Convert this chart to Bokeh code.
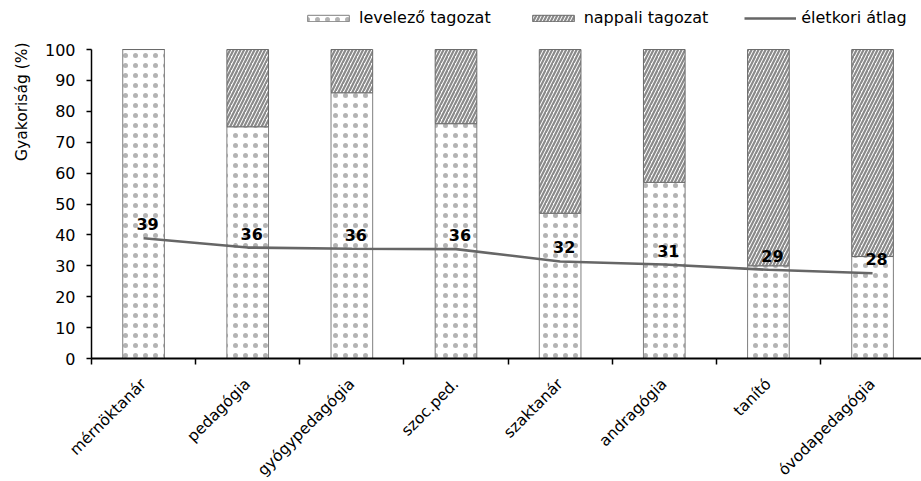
from math import pi
from bokeh.plotting import figure
from bokeh.models import (ColumnDataSource, Range1d, FixedTicker, Legend, LegendItem, Title)
from bokeh.core.properties import value
from bokeh.embed import file_html
from bokeh.resources import INLINE

categories = ["mérnöktanár", "pedagógia", "gyógypedagógia", "szoc.ped.",
              "szaktanár", "andragógia", "tanító", "óvodapedagógia"]
levelezo = [100, 75, 86, 76, 47, 57, 30, 33]
nappali = [0, 25, 14, 24, 53, 43, 70, 67]
atlag = [38.9, 35.9, 35.5, 35.4, 31.4, 30.4, 28.7, 27.6]
atlag_labels = ["39", "36", "36", "36", "32", "31", "29", "28"]
y_ticks = [0, 10, 20, 30, 40, 50, 60, 70, 80, 90, 100]
y_label = "Gyakoriság (%)"
legend_names = ["levelező tagozat", "nappali tagozat", "életkori átlag"]

FONT = "DejaVu Sans"
n = len(categories)
xs = [i + 0.5 for i in range(n)]
bounds = list(range(n + 1))
tops = [a + b for a, b in zip(levelezo, nappali)]

src = ColumnDataSource(dict(x=xs, lev=levelezo, tot=tops, avg=atlag, lab=atlag_labels))

FH = 351  # frame includes room above 100 for the legend
p = figure(frame_width=830, frame_height=FH, output_backend="svg", toolbar_location=None,
           x_range=Range1d(0, 7.97), y_range=Range1d(0, 113.6),
           min_border_left=90, min_border_right=0, min_border_top=7, min_border_bottom=10)
p.outline_line_color = None
p.xgrid.visible = False
p.ygrid.visible = False
p.background_fill_color = "white"
p.border_fill_color = "white"

r_lev = p.vbar(x="x", bottom=0, top="lev", width=0.4, source=src,
               fill_color="white", line_color="#7f7f7f", line_width=1,
               hatch_pattern="dot", hatch_color="#b3b3b3", hatch_scale=10, hatch_weight=1.0)
r_nap = p.vbar(x="x", bottom="lev", top="tot", width=0.4, source=src,
               fill_color="white", line_color="#6a6a6a", line_width=1,
               hatch_pattern="right_diagonal_line", hatch_color="#8a8a8a",
               hatch_scale=7, hatch_weight=2.2)
r_line = p.line(x="x", y="avg", source=src, line_color="#666666", line_width=2.6)
p.text(x="x", y="avg", text="lab", source=src, x_offset=4, y_offset=-14,
       text_align="center", text_baseline="middle",
       text_font=value(FONT), text_font_style="bold", text_font_size="16px",
       text_color="black")

# y axis
p.yaxis.ticker = FixedTicker(ticks=y_ticks)
p.yaxis.bounds = (0, 100)
p.yaxis.axis_line_color = "black"
p.yaxis.axis_line_width = 1.5
p.yaxis.major_tick_line_color = "black"
p.yaxis.major_tick_line_width = 1.5
p.yaxis.major_tick_in = 0
p.yaxis.major_tick_out = 5
p.yaxis.minor_tick_line_color = None
p.yaxis.major_label_text_font = FONT
p.yaxis.major_label_text_font_size = "16px"
p.yaxis.major_label_text_color = "black"
p.yaxis.major_label_standoff = 11

# x axis
p.xaxis.ticker = FixedTicker(ticks=xs, minor_ticks=bounds)
p.xaxis.major_label_overrides = {x: c for x, c in zip(xs, categories)}
p.xaxis.major_label_orientation = pi / 4
p.xaxis.major_tick_line_color = None
p.xaxis.major_tick_in = 0
p.xaxis.major_tick_out = 0
p.xaxis.minor_tick_line_color = "black"
p.xaxis.minor_tick_line_width = 1.5
p.xaxis.minor_tick_in = 0
p.xaxis.minor_tick_out = 6
p.xaxis.axis_line_color = "black"
p.xaxis.axis_line_width = 2
p.xaxis.major_label_text_font = FONT
p.xaxis.major_label_text_font_size = "15.5px"
p.xaxis.major_label_text_color = "black"
p.xaxis.major_label_standoff = 17

p.add_layout(Title(text=y_label, align="right", standoff=21, offset=35,
                   text_font=FONT, text_font_size="15.5px", text_font_style="normal",
                   text_color="black"), "left")

legend = Legend(items=[LegendItem(label=legend_names[0], renderers=[r_lev]),
                       LegendItem(label=legend_names[1], renderers=[r_nap]),
                       LegendItem(label=legend_names[2], renderers=[r_line])],
                orientation="horizontal", location=(211, 331),
                glyph_width=52, glyph_height=8, label_standoff=5, spacing=36,
                padding=0, margin=0, border_line_color=None,
                background_fill_alpha=0,
                label_text_font=FONT, label_text_font_size="16px",
                label_text_color="black")
p.add_layout(legend)

open("out.html", "w").write(file_html(p, INLINE))
